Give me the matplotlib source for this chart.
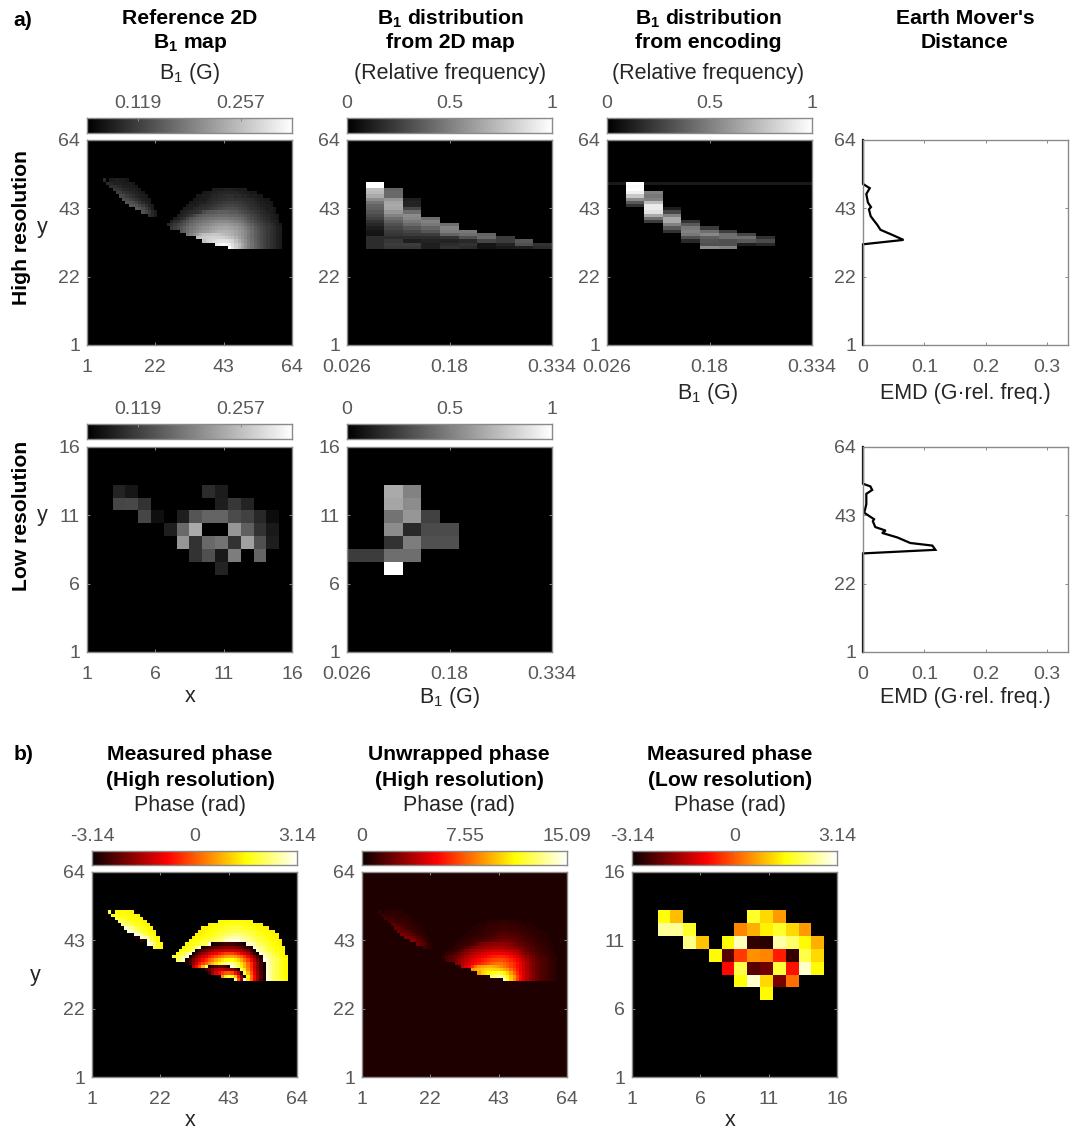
import numpy as np
import matplotlib
matplotlib.use("Agg")
import matplotlib.pyplot as plt
from matplotlib import colors

plt.rcParams['font.family'] = ['Liberation Sans', 'DejaVu Sans']
plt.rcParams['mathtext.fontset'] = 'custom'
plt.rcParams['mathtext.rm'] = 'Liberation Sans'
plt.rcParams['mathtext.bf'] = 'Liberation Sans:bold'
plt.rcParams['mathtext.default'] = 'regular'

# measured phase read off panel b), in 0.1 rad: row y -> (first x, values)
phase_left_blob = {
    52: (8, [15, 15, 16, 15, 15, 14]),
    51: (7, [18, 17, 16, 16, 16, 15, 15, 15, 14]),
    50: (8, [20, 19, 18, 17, 16, 16, 15, 15, 14]),
    49: (9, [22, 21, 20, 18, 17, 16, 16, 15, 14]),
    48: (10, [25, 23, 21, 19, 18, 17, 16, 15, 14]),
    47: (11, [28, 26, 23, 21, 19, 17, 16, 15, 14]),
    46: (12, [30, 28, 25, 22, 20, 18, 16, 15, 14]),
    45: (13, [32, 31, 29, 25, 21, 18, 16, 15]),
    44: (14, [34, 33, 31, 27, 23, 19, 16, 15]),
    43: (16, [36, 33, 28, 23, 18, 15]),
    42: (18, [31, 27, 22, 17, 15]),
    41: (20, [20, 17, 15]),
}
phase_right_blob = {
    49: (40, [15, 15, 15, 15, 16, 16, 16, 15, 15, 15, 15]),
    48: (37, [14, 15, 15, 16, 16, 17, 17, 17, 17, 17, 17, 16, 16, 15, 15, 14, 14]),
    47: (35, [14, 14, 15, 15, 16, 17, 17, 18, 18, 19, 19, 19, 18, 18, 17, 17, 16, 15, 15, 14, 14]),
    46: (34, [14, 14, 15, 15, 16, 17, 18, 18, 19, 20, 20, 21, 21, 20, 20, 19, 18, 18, 17, 16, 15, 15, 14, 14]),
    45: (33, [14, 14, 15, 16, 16, 17, 18, 19, 20, 21, 22, 23, 23, 23, 23, 22, 21, 20, 19, 18, 17, 16, 15, 15, 14, 14]),
    44: (32, [14, 15, 15, 16, 17, 18, 19, 20, 21, 22, 24, 25, 26, 26, 26, 25, 24, 23, 22, 20, 19, 18, 17, 16, 15, 15, 14]),
    43: (31, [15, 15, 16, 17, 18, 19, 20, 21, 22, 24, 25, 27, 29, 30, 30, 30, 29, 27, 25, 24, 22, 20, 19, 18, 17, 16, 15, 15, 14]),
    42: (30, [15, 16, 17, 18, 19, 20, 22, 29, 32, 34, 35, 36, 37, 37, 37, 36, 35, 34, 32, 29, 27, 25, 23, 21, 20, 18, 17, 16, 15, 14]),
    41: (29, [15, 16, 17, 19, 22, 27, 32, 35, 37, 39, 40, 41, 42, 43, 43, 43, 42, 41, 40, 37, 35, 32, 29, 26, 24, 22, 20, 18, 17, 16, 15, 14]),
    40: (28, [15, 16, 18, 21, 26, 32, 36, 39, 41, 43, 45, 47, 48, 49, 50, 50, 50, 49, 48, 46, 44, 41, 36, 32, 28, 25, 23, 21, 19, 18, 16, 15, 14]),
    39: (27, [16, 18, 20, 24, 28, 32, 37, 41, 44, 47, 50, 52, 54, 56, 58, 60, 60, 60, 58, 56, 53, 50, 46, 41, 36, 32, 28, 25, 23, 21, 19, 17, 16, 15]),
    38: (26, [17, 19, 22, 25, 28, 32, 37, 42, 46, 50, 53, 56, 59, 62, 65, 67, 69, 70, 70, 69, 66, 63, 59, 54, 48, 42, 37, 32, 28, 25, 23, 21, 19, 17, 15, 14]),
    37: (27, [21, 24, 27, 32, 37, 42, 47, 51, 55, 59, 63, 66, 70, 73, 76, 78, 79, 79, 77, 74, 70, 65, 60, 54, 47, 41, 35, 31, 27, 24, 22, 20, 18, 16, 15]),
    36: (30, [33, 38, 44, 50, 56, 60, 64, 68, 72, 76, 80, 84, 87, 88, 88, 85, 81, 76, 71, 65, 58, 51, 44, 37, 32, 28, 25, 22, 20, 18, 16, 15]),
    35: (32, [48, 55, 62, 72, 86, 95, 98, 100, 102, 102, 100, 96, 92, 88, 83, 77, 71, 65, 58, 50, 43, 37, 32, 28, 25, 22, 20, 18, 16, 15]),
    34: (35, [95, 100, 104, 107, 110, 111, 111, 110, 109, 105, 100, 95, 85, 76, 67, 59, 51, 44, 37, 32, 28, 25, 22, 20, 18, 16, 15]),
    33: (37, [98, 108, 114, 118, 122, 125, 126, 124, 118, 110, 97, 84, 72, 62, 53, 45, 38, 33, 28, 25, 22, 20, 18, 16, 15]),
    32: (41, [130, 140, 146, 142, 135, 120, 106, 96, 78, 65, 55, 46, 39, 33, 29, 25, 22, 20, 18, 16, 15]),
    31: (45, [151, 125, 108, 94, 76, 64, 54, 46, 38, 33, 29, 25, 22, 20, 18, 16, 15]),
}
phase_tip = (6, 52, 18)   # single stray cell at the tip of the left blob
measured_offset = 0.7     # measured phase sits this far above the unwrapped one
unwrapped_background = 0.5
rad_per_gauss = 45.2

# low resolution B1 map, grey level: row y -> (first x, values)
b1_low = {
    13: (3, [35, 22, 0, 0, 0, 0, 0, 45, 28]),
    12: (3, [70, 72, 50, 0, 0, 0, 0, 0, 30, 55, 35]),
    11: (5, [70, 15, 0, 30, 85, 100, 100, 75, 65, 40, 12]),
    10: (7, [30, 105, 170, 0, 0, 150, 95, 50, 25]),
    9: (8, [150, 50, 105, 115, 50, 160, 80, 30]),
    8: (9, [50, 80, 25, 125, 0, 100]),
    7: (11, [35]),
}
# low resolution wrapped phase (rad)
phase_low = {
    13: (3, [1.6, 0.95, None, None, None, None, None, 1.8, 1.2, 0.6]),
    12: (3, [2.5, 2.5, 1.8, None, None, None, 0.4, 0.8, 1.4, 1.8, 1.2, 0.6]),
    11: (5, [2.4, 1.0, None, 1.5, 2.7, -2.75, -2.85, 2.6, 2.2, 1.5, 0.8]),
    10: (7, [1.5, -2.4, -0.3, 0.5, 0.4, -0.6, -2.7, 2.0, 1.2]),
    9: (8, [-0.8, 2.0, -2.4, -2.2, 1.9, -0.7, 2.8, 1.5]),
    8: (9, [1.6, 2.8, 1.2, -2.1, 0.2]),
    7: (11, [1.5]),
}

# histograms, grey level per row: bin index -> (lowest row y, values going up)
dist_map_hi = {
    1: (31, [45, 45, 45, 45, 20, 22, 30, 40, 50, 65, 75, 85, 95, 100, 115, 140, 170, 185, 190, 255, 255]),
    2: (31, [55, 60, 55, 45, 55, 60, 70, 80, 95, 110, 130, 150, 165, 170, 165, 150, 105, 105, 100]),
    3: (31, [55, 60, 30, 45, 60, 70, 85, 105, 120, 135, 140, 110, 70, 35, 35, 30]),
    4: (31, [30, 30, 35, 45, 60, 85, 100, 120, 130, 110]),
    5: (31, [50, 45, 35, 50, 100, 125, 130, 110]),
    6: (31, [45, 50, 40, 80, 110, 120]),
    7: (31, [20, 20, 70, 105, 100]),
    8: (31, [25, 35, 60, 60]),
    9: (31, [30, 80, 90]),
    10: (31, [45, 50]),
}
dist_enc_hi = {
    1: (44, [50, 90, 140, 200, 240, 255, 250, 255]),
    2: (39, [60, 110, 170, 225, 235, 235, 190, 130, 120, 130]),
    3: (36, [50, 90, 130, 170, 170, 130, 70, 30]),
    4: (33, [40, 80, 120, 130, 120, 90, 50]),
    5: (31, [140, 80, 85, 95, 135, 110, 60]),
    6: (31, [130, 80, 80, 110, 110, 60]),
    7: (32, [30, 90, 110, 70]),
    8: (32, [40, 75, 50]),
}
enc_line_row = 51
enc_line_level = 25
dist_map_low = {
    13: (1, [0, 170, 130, 0, 0]),
    12: (1, [0, 165, 140, 0, 0]),
    11: (1, [0, 115, 150, 65, 0]),
    10: (1, [0, 140, 40, 75, 75]),
    9: (1, [0, 50, 125, 80, 80]),
    8: (0, [60, 60, 110, 110, 0]),
    7: (0, [0, 0, 255, 0, 0]),
}

# Earth mover's distance curves
emd_hi_x = [0, 0, 0.066, 0.047, 0.0285, 0.023, 0.018, 0.0125, 0.0097, 0.013, 0.008, 0.0054, 0.011, 0.0016, 0, 0]
emd_hi_y = [1, 31.95, 33.3, 34.9, 36.4, 38, 39.2, 40.6, 42.7, 43.4, 44.8, 47.4, 49.2, 50.3, 50.5, 64]
emd_low_x = [0, 0, 0.118, 0.113, 0.077, 0.056, 0.031, 0.037, 0.02, 0.016, 0.018, 0.002, 0.0054, 0.0054, 0.015, 0.012, 0, 0]
emd_low_y = [1, 31.3, 32.4, 33.7, 34.5, 36.2, 37.6, 38.3, 39.4, 41.2, 41.8, 43.8, 46.4, 49.6, 50.8, 51.9, 52.7, 64]

hi_ticks = [1, 22, 43, 64]
low_ticks = [1, 6, 11, 16]
b1_ticks = [0.026, 0.18, 0.334]
emd_ticks = [0, 0.1, 0.2, 0.3]

W, H = 1092, 1132
EDGE = '#8a8a8a'
TICK = '#595959'
INK = '#262626'
FS = 15.5
FS_TICK = 14
FS_BOLD = 15.2


def fill_rows(rows, shape, empty=0.0):
    out = np.full(shape, empty, dtype=float)
    for y, (x0, vals) in rows.items():
        for i, v in enumerate(vals):
            if v is not None:
                out[y - 1, x0 - 1 + i] = v
    return out


def fill_cols(cols, shape):
    out = np.zeros(shape)
    for b, (y0, vals) in cols.items():
        out[y0 - 1:y0 - 1 + len(vals), b] = vals
    return out


def px_axes(fig, l, t, r, b):
    return fig.add_axes([l / W, 1 - b / H, (r - l) / W, (b - t) / H])


def txt(fig, x, y, s, **kw):
    kw.setdefault('fontsize', FS)
    kw.setdefault('color', INK)
    kw.setdefault('ha', 'center')
    kw.setdefault('va', 'center')
    fig.text(x / W, 1 - y / H, s, **kw)


def style(ax, xticks, yticks, xfmt=None):
    ax.set_xticks(xticks)
    ax.set_yticks(yticks)
    if xfmt:
        ax.set_xticklabels(xfmt)
    ax.tick_params(direction='in', length=2.5, width=0.7, color=EDGE, labelcolor=TICK,
                   labelsize=FS_TICK, top=True, right=True)
    ax.tick_params(axis='x', pad=10)
    ax.tick_params(axis='y', pad=5)
    for s in ax.spines.values():
        s.set_color(EDGE)
        s.set_linewidth(1.0)


def image(fig, box, data, cmap, norm, extent, xticks, yticks, xfmt=None):
    ax = px_axes(fig, *box)
    ax.imshow(data, origin='lower', aspect='auto', cmap=cmap, norm=norm, extent=extent,
              interpolation='nearest')
    ax.set_xlim(extent[0], extent[1])
    ax.set_ylim(extent[2], extent[3])
    style(ax, xticks, yticks, xfmt)
    return ax


def colorbar(fig, box, cmap, lo, hi, ticks, labels):
    ax = px_axes(fig, *box)
    ax.imshow(np.linspace(0, 1, 256)[None, :], aspect='auto', cmap=cmap, vmin=0, vmax=1,
              extent=(lo, hi, 0, 1))
    ax.set_yticks([])
    ax.set_xticks(ticks)
    ax.set_xticklabels(labels)
    ax.xaxis.tick_top()
    ax.tick_params(direction='in', length=2.5, width=0.7, color=EDGE, labelcolor=TICK,
                   labelsize=FS_TICK, pad=4)
    for s in ax.spines.values():
        s.set_color(EDGE)
        s.set_linewidth(1.0)


# assemble the maps
phase_hi = fill_rows(phase_left_blob, (64, 64)) + fill_rows(phase_right_blob, (64, 64))
phase_hi[phase_tip[1] - 1, phase_tip[0] - 1] = phase_tip[2]
phase_hi = phase_hi / 10.0
inside = phase_hi > 0
b1_hi = phase_hi / rad_per_gauss
# outside the object the phase panels are pure black, hence the "under" colour
wrapped_hi = np.where(inside, (phase_hi + np.pi) % (2 * np.pi) - np.pi, -4.0)
unwrapped_hi = np.where(inside, np.maximum(phase_hi - measured_offset, unwrapped_background), unwrapped_background)
b1_low_img = fill_rows(b1_low, (16, 16)) / 255.0
phase_low_img = fill_rows(phase_low, (16, 16), empty=-4.0)
dist_map_img = fill_cols(dist_map_hi, (64, 11)) / 255.0
dist_enc_img = fill_cols(dist_enc_hi, (64, 11)) / 255.0
dist_enc_img[enc_line_row - 1, dist_enc_img[enc_line_row - 1] == 0] = enc_line_level / 255.0
dist_low_img = np.zeros((16, 11))
for y, (b0, vals) in dist_map_low.items():
    dist_low_img[y - 1, b0:b0 + len(vals)] = vals
dist_low_img = dist_low_img / 255.0

fig = plt.figure(figsize=(W / 100, H / 100), dpi=100)
hot = plt.get_cmap('hot').with_extremes(under='black')
gray_norm = colors.PowerNorm(0.58, vmin=0.026, vmax=0.334)
unit = colors.Normalize(0, 1)
hi_ext = (1, 64, 1, 64)
low_ext = (1, 16, 1, 16)
dist_ext = (0.026, 0.334, 1, 64)
dist_low_ext = (0.026, 0.334, 1, 16)
b1_labels = ['0.026', '0.18', '0.334']
emd_labels = ['0', '0.1', '0.2', '0.3']

# a) top row
image(fig, (87, 140, 292, 345), b1_hi, 'gray', gray_norm, hi_ext, hi_ticks, hi_ticks)
image(fig, (347, 140, 552, 345), dist_map_img, 'gray', unit, dist_ext, b1_ticks, hi_ticks, b1_labels)
image(fig, (607, 140, 812, 345), dist_enc_img, 'gray', unit, dist_ext, b1_ticks, hi_ticks, b1_labels)
ax = px_axes(fig, 863, 140, 1068, 345)
ax.plot(emd_hi_x, emd_hi_y, color='black', lw=1.6, solid_joinstyle='miter', clip_on=False)
ax.set_xlim(0, 0.334)
ax.set_ylim(1, 64)
style(ax, emd_ticks, hi_ticks, emd_labels)

colorbar(fig, (87, 118, 292, 133), 'gray', 0.05, 0.326, [0.119, 0.257], ['0.119', '0.257'])
colorbar(fig, (347, 118, 552, 133), 'gray', 0, 1, [0, 0.5, 1], ['0', '0.5', '1'])
colorbar(fig, (607, 118, 812, 133), 'gray', 0, 1, [0, 0.5, 1], ['0', '0.5', '1'])

# a) bottom row
image(fig, (87, 447, 292, 652), b1_low_img, 'gray', unit, low_ext, low_ticks, low_ticks)
image(fig, (347, 447, 552, 652), dist_low_img, 'gray', unit, dist_low_ext, b1_ticks, low_ticks, b1_labels)
ax = px_axes(fig, 863, 447, 1068, 652)
ax.plot(emd_low_x, emd_low_y, color='black', lw=1.6, solid_joinstyle='miter', clip_on=False)
ax.set_xlim(0, 0.334)
ax.set_ylim(1, 64)
style(ax, emd_ticks, hi_ticks, emd_labels)

colorbar(fig, (87, 424, 292, 439), 'gray', 0.05, 0.326, [0.119, 0.257], ['0.119', '0.257'])
colorbar(fig, (347, 424, 552, 439), 'gray', 0, 1, [0, 0.5, 1], ['0', '0.5', '1'])

# b)
pi_norm = colors.Normalize(-np.pi, np.pi)
image(fig, (92, 872, 297, 1077), wrapped_hi, hot, pi_norm, hi_ext, hi_ticks, hi_ticks)
image(fig, (362, 872, 567, 1077), unwrapped_hi, hot, colors.Normalize(0, 15.09), hi_ext, hi_ticks, hi_ticks)
image(fig, (632, 872, 837, 1077), phase_low_img, hot, pi_norm, low_ext, low_ticks, low_ticks)
colorbar(fig, (92, 851, 297, 865), hot, -3.14, 3.14, [-3.14, 0, 3.14], ['-3.14', '0', '3.14'])
colorbar(fig, (362, 851, 567, 865), hot, 0, 15.09, [0, 7.55, 15.09], ['0', '7.55', '15.09'])
colorbar(fig, (632, 851, 837, 865), hot, -3.14, 3.14, [-3.14, 0, 3.14], ['-3.14', '0', '3.14'])

# titles and labels
BOLD = dict(color='black', fontweight='bold', fontsize=FS_BOLD)
txt(fig, 23, 20, 'a)', **BOLD)
txt(fig, 24, 755, 'b)', **BOLD)

txt(fig, 190, 19, 'Reference 2D', **BOLD)
txt(fig, 190, 43, r'B$_{\mathbf{1}}$ map', **BOLD)
txt(fig, 190, 73, r'B$_1$ (G)')
txt(fig, 450, 19, r'B$_{\mathbf{1}}$ distribution', **BOLD)
txt(fig, 450, 43, 'from 2D map', **BOLD)
txt(fig, 450, 73, '(Relative frequency)')
txt(fig, 708, 19, r'B$_{\mathbf{1}}$ distribution', **BOLD)
txt(fig, 708, 43, 'from encoding', **BOLD)
txt(fig, 708, 73, '(Relative frequency)')
txt(fig, 965, 19, "Earth Mover's", **BOLD)
txt(fig, 965, 43, 'Distance', **BOLD)

txt(fig, 22, 228, 'High resolution', rotation=90, **BOLD)
txt(fig, 22, 516, 'Low resolution', rotation=90, **BOLD)
txt(fig, 42, 228, 'y')
txt(fig, 42, 515, 'y')
txt(fig, 190, 697, 'x')
txt(fig, 450, 697, r'B$_1$ (G)')
txt(fig, 708, 394, r'B$_1$ (G)')
txt(fig, 965, 394, 'EMD (G\u00b7rel. freq.)')
txt(fig, 965, 697, 'EMD (G\u00b7rel. freq.)')

txt(fig, 190, 755, 'Measured phase', **BOLD)
txt(fig, 190, 780, '(High resolution)', **BOLD)
txt(fig, 190, 806, 'Phase (rad)')
txt(fig, 459, 755, 'Unwrapped phase', **BOLD)
txt(fig, 459, 780, '(High resolution)', **BOLD)
txt(fig, 459, 806, 'Phase (rad)')
txt(fig, 730, 755, 'Measured phase', **BOLD)
txt(fig, 730, 780, '(Low resolution)', **BOLD)
txt(fig, 730, 806, 'Phase (rad)')
txt(fig, 35, 975, 'y')
txt(fig, 190, 1121, 'x')
txt(fig, 730, 1121, 'x')

fig.savefig('out.png', dpi=100)
